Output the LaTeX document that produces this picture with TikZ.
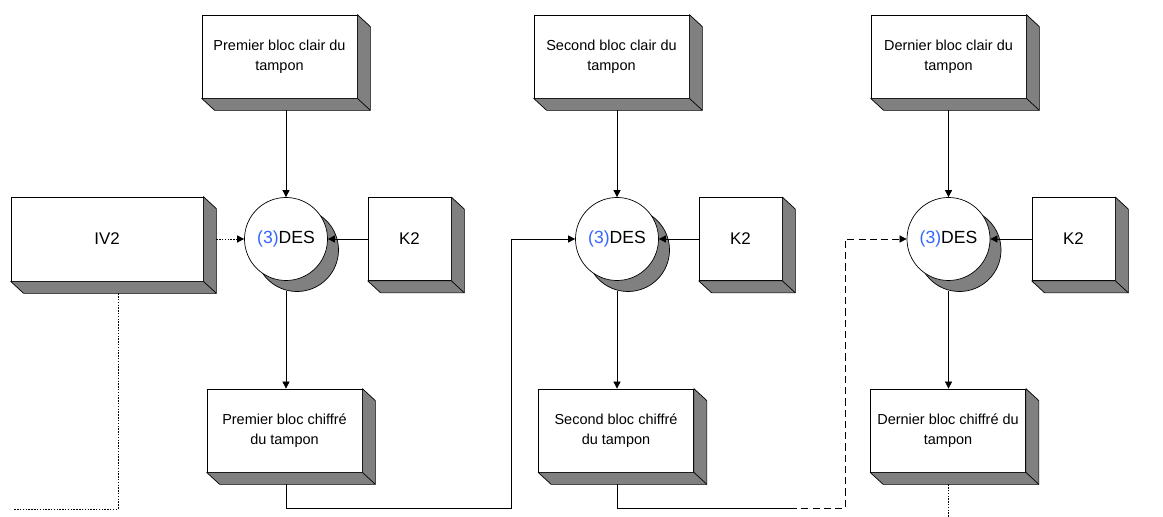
\documentclass[tikz,border=0pt]{standalone}
\usepackage{fontspec}
\setmainfont{Liberation Sans}
\usetikzlibrary{arrows.meta,shadows}
\definecolor{gris}{RGB}{128,128,128}
\definecolor{bleu}{RGB}{51,102,255}

\begin{document}
\begin{tikzpicture}[x=0.025cm,y=-0.025cm,line width=0.5pt,
  >={Triangle[length=5pt,width=5pt]},
  bloc/.style={draw,rectangle,fill=white,inner sep=0pt,minimum width=3.875cm,minimum height=2.075cm,align=center,font=\fontsize{10.3}{14}\selectfont},
  cle/.style={bloc,minimum width=2.075cm,font=\fontsize{12}{14}\selectfont},
  des/.style={draw,circle,fill=white,inner sep=0pt,minimum size=2.075cm,font=\fontsize{12.5}{14}\selectfont,
    copy shadow={shadow xshift=0.275cm,shadow yshift=-0.275cm,fill=gris,draw=black}},
  ombre/.style={fill=gris,draw=black,line join=round},
  pointille/.style={dash pattern=on 1pt off 1pt},
  tirets/.style={dash pattern=on 5pt off 3pt}]

\useasboundingbox (0,0) rectangle (1163,517);

\node[bloc] (0) at (279.5,56.5) {Premier bloc clair du\\tampon};
\node[des] (1) at (286,239) {\textcolor{bleu}{(3)}DES};
\node[bloc] (2) at (284.5,430.5) {Premier bloc chiffré\\du tampon};
\node[bloc,minimum width=4.8cm,minimum height=2.1cm,font=\fontsize{12}{14}\selectfont] (3) at (107,239) {IV2};
\node[cle] (4) at (409.5,239) {K2};

\node[bloc] (5) at (611.5,56.5) {Second bloc clair du\\tampon};
\node[des] (6) at (617,239) {\textcolor{bleu}{(3)}DES};
\node[bloc] (7) at (616,430.5) {Second bloc chiffré\\du tampon};
\node[cle] (8) at (740.5,239) {K2};

\node[bloc] (9) at (948.5,56.5) {Dernier bloc clair du\\tampon};
\node[des] (10) at (948.5,239) {\textcolor{bleu}{(3)}DES};
\node[bloc] (11) at (948,430.5) {Dernier bloc chiffré du\\tampon};
\node[cle] (12) at (1073.5,239) {K2};

\foreach \n in {0,2,3,4,5,7,8,9,11,12}{
  \filldraw[ombre] (\n.north east) -- ([shift={(13,12)}]\n.north east) -- ([shift={(13,12)}]\n.south east)
    -- ([shift={(13,12)}]\n.south west) -- (\n.south west) -- (\n.south east) -- cycle;
  \draw (\n.south east) -- ++(13,12);
  \coordinate (b\n) at ([yshift=-0.3cm]\n.south);
}

\coordinate (c1) at (511,508);
\coordinate (c2) at (790,508);
\coordinate (c3) at (845,508);
\coordinate (c4) at (118,509);
\coordinate (c5) at (14,509);
\coordinate (c6) at (948,517);

\draw[->] (1 |- b0)--(1);
\draw[->] (4)--(1);
\draw[->,pointille] ([xshift=0.325cm]3.east)--(1);
\draw[->] ([yshift=-0.25cm]1.south)--(1 |- 2.north);
\draw[->] (1 |- b2)|-(c1)|-(6);

\draw[->] (6 |- b5)--(6);
\draw[->] (8)--(6);
\draw[->] ([yshift=-0.25cm]6.south)--(6 |- 7.north);
\draw (6 |- b7)|-(c2);
\draw[->,tirets] (c2)--(c3)|-(10);

\draw[->] (10 |- b9)--(10);
\draw[->] (12)--(10);
\draw[->] ([yshift=-0.25cm]10.south)--(10 |- 11.north);

\draw[pointille] (c4 |- b3)--(c4)--(c5);
\draw[pointille] (c6 |- b11)--(c6);

\end{tikzpicture}
\end{document}
